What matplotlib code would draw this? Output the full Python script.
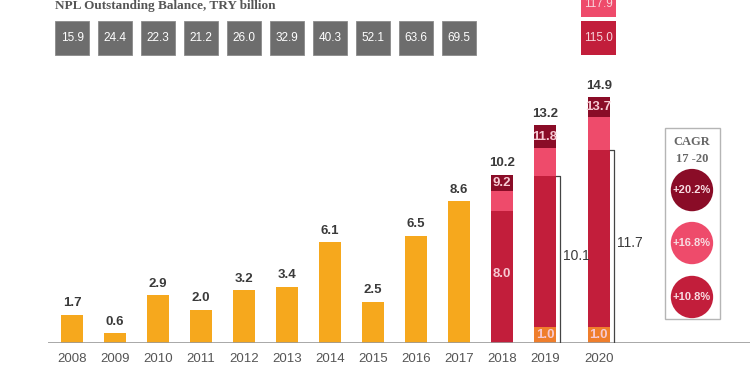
import numpy as np
import matplotlib.pyplot as plt
from matplotlib.patches import Rectangle

# data
years = ['2008', '2009', '2010', '2011', '2012', '2013', '2014', '2015',
         '2016', '2017', '2018', '2019', '2020']
hist_vals = [1.7, 0.6, 2.9, 2.0, 3.2, 3.4, 6.1, 2.5, 6.5, 8.6]
npl_balance = ['15.9', '24.4', '22.3', '21.2', '26.0', '32.9', '40.3', '52.1', '63.6', '69.5']

# forecast years 2018-2020: base (orange), mid (crimson), upper (pink), top (dark)
fc_years = ['2018', '2019', '2020']
fc_orange = [0.0, 1.0, 1.0]
fc_base = [8.0, 10.1, 11.7]
fc_mid = [9.2, 11.8, 13.7]
fc_total = [10.2, 13.2, 14.9]
bracket_vals = ['10.1', '11.7']
balance_2020 = ['115.0', '117.9']

cagr_labels = ['+20.2%', '+16.8%', '+10.8%']

C_ORANGE = '#F6A81D'
C_ORANGE2 = '#EF7E2C'
C_CRIMSON = '#C21E3B'
C_PINK = '#EE4B6B'
C_DARK = '#8A0C27'
C_GRAY = '#6D6D6D'
C_TXT = '#3A3A3A'

x = np.arange(len(years), dtype=float)
x[-1] += 0.25  # 2020 is set apart a bit
xh = x[:10]
xf = x[10:]
bw = 0.51

fig = plt.figure(figsize=(7.5, 3.75), dpi=100)
ax = fig.add_axes([0.064, 0.0853, 0.936, 0.9147])
ax.set_xlim(-0.56, 15.77)
ax.set_ylim(0, 20.79)
for s in ax.spines.values():
    s.set_visible(False)
ax.set_yticks([])
ax.set_xticks(x)
ax.set_xticklabels(years, fontsize=9.5, color='#555555', family='Liberation Sans')
ax.tick_params(axis='x', length=0, pad=7)
ax.axhline(0, color='#9A9A9A', lw=1.2, zorder=3)

lab = dict(ha='center', va='bottom', fontsize=9.5, fontweight='bold',
           color=C_TXT, family='Liberation Sans')
inner = dict(ha='center', va='center', fontsize=9.5, fontweight='bold',
             color='#F6C9D2', family='Liberation Sans')

# historical bars
ax.bar(xh, hist_vals, width=bw, color=C_ORANGE, zorder=2)
for xi, v in zip(xh, hist_vals):
    ax.annotate(f'{v:.1f}', (xi, v), xytext=(0, 4), textcoords='offset points', **lab)

# forecast stacks
fo = np.array(fc_orange)
fb = np.array(fc_base)
fm = np.array(fc_mid)
ft = np.array(fc_total)
ax.bar(xf, fo, width=bw, color=C_ORANGE2, zorder=2)
ax.bar(xf, fb - fo, bottom=fo, width=bw, color=C_CRIMSON, zorder=2)
ax.bar(xf, fm - fb, bottom=fb, width=bw, color=C_PINK, zorder=2)
ax.bar(xf, ft - fm, bottom=fm, width=bw, color=C_DARK, zorder=2)
for i, xi in enumerate(xf):
    ax.annotate(f'{ft[i]:.1f}', (xi, ft[i]), xytext=(0, 4), textcoords='offset points', **lab)
    ax.text(xi, (fm[i] + ft[i]) / 2, f'{fm[i]:.1f}', **inner)
    if fo[i] > 0:
        ax.text(xi, fo[i] / 2, f'{fo[i]:.1f}', **inner)
ax.text(xf[0], fb[0] * 0.52, f'{fb[0]:.1f}', **inner)

# brackets for 2019 and 2020
for xi, top, t in zip(xf[1:], fb[1:], bracket_vals):
    bx = xi + 0.36
    ax.plot([bx - 0.1, bx, bx], [top, top, 0], color='#444444', lw=0.9, zorder=3)
    ax.text(bx + 0.06, top * 0.52, t, ha='left', va='center', fontsize=10,
            color=C_TXT, family='Liberation Sans')

# title and NPL balance boxes
ax.text(-0.4, 20.45, 'NPL Outstanding Balance, TRY billion', ha='left', va='center',
        fontsize=9.5, fontweight='bold', color='#555555', family='Liberation Serif',
        clip_on=False)
bh = 2.05
by = 17.45
bwid = 0.81
for xi, t in zip(xh, npl_balance):
    ax.add_patch(Rectangle((xi - bwid / 2, by), bwid, bh, facecolor=C_GRAY,
                           edgecolor='#8A8A8A', lw=0.6, clip_on=False))
    ax.text(xi, by + bh / 2, t, ha='center', va='center', fontsize=8.5,
            color='white', family='Liberation Sans')
for j, (t, c) in enumerate(zip(balance_2020, [C_CRIMSON, C_PINK])):
    y0 = by + j * (bh + 0.25)
    ax.add_patch(Rectangle((xf[2] - bwid / 2, y0), bwid, bh, facecolor=c,
                           edgecolor='none', clip_on=False))
    ax.text(xf[2], y0 + bh / 2 - j * 0.25, t, ha='center', va='center', fontsize=8.5,
            color='#F8D5DC', family='Liberation Sans', clip_on=False)

# CAGR box
cx = 14.42
ax.add_patch(Rectangle((13.79, 1.45), 1.28, 11.58, facecolor='white',
                       edgecolor='#B5B5B5', lw=1.0, zorder=2))
ax.text(cx, 12.2, 'CAGR', ha='center', va='center', fontsize=9,
        fontweight='bold', color='#666666', family='Liberation Serif')
ax.text(cx, 11.15, '17 -20', ha='center', va='center', fontsize=9,
        fontweight='bold', color='#666666', family='Liberation Serif')
cy = [9.27, 6.06, 2.79]
ax.scatter([cx] * 3, cy, s=930, c=[C_DARK, C_PINK, C_CRIMSON], zorder=3,
           linewidths=0)
for yy, t in zip(cy, cagr_labels):
    ax.text(cx, yy, t, ha='center', va='center', fontsize=8, fontweight='bold',
            color='#F8DCE2', family='Liberation Sans', zorder=4)

fig.savefig('out.png', dpi=100)
